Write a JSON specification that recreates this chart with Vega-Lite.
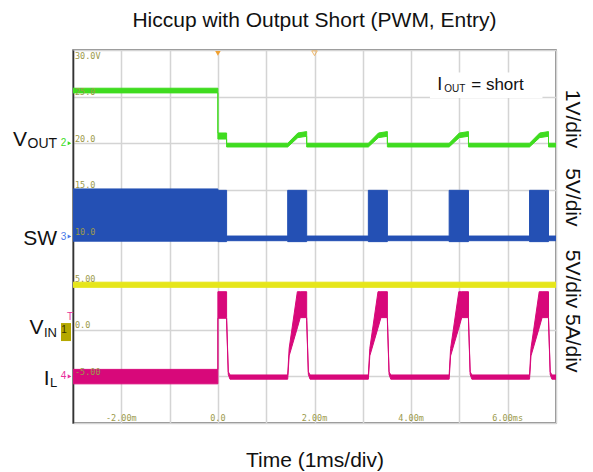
{
  "$schema": "https://vega.github.io/schema/vega-lite/v6.json",
  "width": 483,
  "height": 373,
  "autosize": {"type": "none"},
  "padding": {"left": 73, "top": 50, "right": 37, "bottom": 49},
  "background": "white",
  "title": {"text": "Hiccup with Output Short (PWM, Entry)", "fontSize": 21, "font": "Liberation Sans", "fontWeight": "normal", "color": "#111111", "anchor": "middle", "frame": "group", "offset": 18},
  "config": {"view": {"stroke": "#666666", "strokeWidth": 1.5}, "font": "Liberation Sans"},
  "datasets": {
    "traces": [
      {"s": "VIN", "t": -3, "lo": 4.55, "hi": 5.1},
      {"s": "VIN", "t": 7, "lo": 4.55, "hi": 5.1},

      {"s": "VOUT", "t": -3, "lo": 25.4, "hi": 25.9},
      {"s": "VOUT", "t": 0, "lo": 25.4, "hi": 25.9},
      {"s": "VOUT", "t": 0, "lo": 20.45, "hi": 21.1},
      {"s": "VOUT", "t": 0.18, "lo": 20.45, "hi": 21.1},
      {"s": "VOUT", "t": 0.18, "lo": 19.6, "hi": 20.0},
      {"s": "VOUT", "t": 1.445, "lo": 19.6, "hi": 20.0},
      {"s": "VOUT", "t": 1.655, "lo": 20.6, "hi": 21.1},
      {"s": "VOUT", "t": 1.838, "lo": 20.75, "hi": 21.25},
      {"s": "VOUT", "t": 1.838, "lo": 19.6, "hi": 20.0},
      {"s": "VOUT", "t": 3.115, "lo": 19.6, "hi": 20.0},
      {"s": "VOUT", "t": 3.325, "lo": 20.6, "hi": 21.1},
      {"s": "VOUT", "t": 3.509, "lo": 20.75, "hi": 21.25},
      {"s": "VOUT", "t": 3.509, "lo": 19.6, "hi": 20.0},
      {"s": "VOUT", "t": 4.788, "lo": 19.6, "hi": 20.0},
      {"s": "VOUT", "t": 4.998, "lo": 20.6, "hi": 21.1},
      {"s": "VOUT", "t": 5.188, "lo": 20.75, "hi": 21.25},
      {"s": "VOUT", "t": 5.188, "lo": 19.6, "hi": 20.0},
      {"s": "VOUT", "t": 6.452, "lo": 19.6, "hi": 20.0},
      {"s": "VOUT", "t": 6.662, "lo": 20.6, "hi": 21.1},
      {"s": "VOUT", "t": 6.845, "lo": 20.75, "hi": 21.25},
      {"s": "VOUT", "t": 6.845, "lo": 19.6, "hi": 20.0},
      {"s": "VOUT", "t": 7, "lo": 19.6, "hi": 20.0},

      {"s": "SW", "t": -3, "lo": 9.5, "hi": 15.1},
      {"s": "SW", "t": 0, "lo": 9.5, "hi": 15.1},
      {"s": "SW", "t": 0, "lo": 9.45, "hi": 14.95},
      {"s": "SW", "t": 0.18, "lo": 9.45, "hi": 14.95},
      {"s": "SW", "t": 0.18, "lo": 9.55, "hi": 10.05},
      {"s": "SW", "t": 1.445, "lo": 9.55, "hi": 10.05},
      {"s": "SW", "t": 1.445, "lo": 9.45, "hi": 14.95},
      {"s": "SW", "t": 1.838, "lo": 9.45, "hi": 14.95},
      {"s": "SW", "t": 1.838, "lo": 9.55, "hi": 10.05},
      {"s": "SW", "t": 3.115, "lo": 9.55, "hi": 10.05},
      {"s": "SW", "t": 3.115, "lo": 9.45, "hi": 14.95},
      {"s": "SW", "t": 3.509, "lo": 9.45, "hi": 14.95},
      {"s": "SW", "t": 3.509, "lo": 9.55, "hi": 10.05},
      {"s": "SW", "t": 4.788, "lo": 9.55, "hi": 10.05},
      {"s": "SW", "t": 4.788, "lo": 9.45, "hi": 14.95},
      {"s": "SW", "t": 5.188, "lo": 9.45, "hi": 14.95},
      {"s": "SW", "t": 5.188, "lo": 9.55, "hi": 10.05},
      {"s": "SW", "t": 6.452, "lo": 9.55, "hi": 10.05},
      {"s": "SW", "t": 6.452, "lo": 9.45, "hi": 14.95},
      {"s": "SW", "t": 6.845, "lo": 9.45, "hi": 14.95},
      {"s": "SW", "t": 6.845, "lo": 9.55, "hi": 10.05},
      {"s": "SW", "t": 7, "lo": 9.55, "hi": 10.05},

      {"s": "IL", "t": -3, "lo": -5.8, "hi": -4.25},
      {"s": "IL", "t": 0, "lo": -5.8, "hi": -4.25},
      {"s": "IL", "t": 0, "lo": 1.23, "hi": 4.08},
      {"s": "IL", "t": 0.18, "lo": 1.23, "hi": 4.08},
      {"s": "IL", "t": 0.18, "lo": 1.0, "hi": 1.3},
      {"s": "IL", "t": 0.215, "lo": -4.8, "hi": -4.5},
      {"s": "IL", "t": 0.25, "lo": -5.3, "hi": -4.85},
      {"s": "IL", "t": 1.445, "lo": -5.3, "hi": -4.85},
      {"s": "IL", "t": 1.475, "lo": -2.8, "hi": -2.0},
      {"s": "IL", "t": 1.645, "lo": 0.2, "hi": 4.08},
      {"s": "IL", "t": 1.705, "lo": 1.3, "hi": 4.08},
      {"s": "IL", "t": 1.838, "lo": 1.3, "hi": 4.08},
      {"s": "IL", "t": 1.838, "lo": 1.0, "hi": 1.3},
      {"s": "IL", "t": 1.873, "lo": -4.8, "hi": -4.5},
      {"s": "IL", "t": 1.908, "lo": -5.3, "hi": -4.85},
      {"s": "IL", "t": 3.115, "lo": -5.3, "hi": -4.85},
      {"s": "IL", "t": 3.145, "lo": -2.8, "hi": -2.0},
      {"s": "IL", "t": 3.315, "lo": 0.2, "hi": 4.08},
      {"s": "IL", "t": 3.375, "lo": 1.3, "hi": 4.08},
      {"s": "IL", "t": 3.509, "lo": 1.3, "hi": 4.08},
      {"s": "IL", "t": 3.509, "lo": 1.0, "hi": 1.3},
      {"s": "IL", "t": 3.544, "lo": -4.8, "hi": -4.5},
      {"s": "IL", "t": 3.579, "lo": -5.3, "hi": -4.85},
      {"s": "IL", "t": 4.788, "lo": -5.3, "hi": -4.85},
      {"s": "IL", "t": 4.818, "lo": -2.8, "hi": -2.0},
      {"s": "IL", "t": 4.988, "lo": 0.2, "hi": 4.08},
      {"s": "IL", "t": 5.048, "lo": 1.3, "hi": 4.08},
      {"s": "IL", "t": 5.188, "lo": 1.3, "hi": 4.08},
      {"s": "IL", "t": 5.188, "lo": 1.0, "hi": 1.3},
      {"s": "IL", "t": 5.223, "lo": -4.8, "hi": -4.5},
      {"s": "IL", "t": 5.258, "lo": -5.3, "hi": -4.85},
      {"s": "IL", "t": 6.452, "lo": -5.3, "hi": -4.85},
      {"s": "IL", "t": 6.482, "lo": -2.8, "hi": -2.0},
      {"s": "IL", "t": 6.652, "lo": 0.2, "hi": 4.08},
      {"s": "IL", "t": 6.712, "lo": 1.3, "hi": 4.08},
      {"s": "IL", "t": 6.845, "lo": 1.3, "hi": 4.08},
      {"s": "IL", "t": 6.845, "lo": 1.0, "hi": 1.3},
      {"s": "IL", "t": 6.88, "lo": -4.8, "hi": -4.5},
      {"s": "IL", "t": 6.915, "lo": -5.3, "hi": -4.85},
      {"s": "IL", "t": 7, "lo": -5.3, "hi": -4.85}
    ],
    "levels": [
      {"lab": "25.0", "v": 25},
      {"lab": "20.0", "v": 20},
      {"lab": "15.0", "v": 15},
      {"lab": "10.0", "v": 10},
      {"lab": "5.00", "v": 5},
      {"lab": "0.0", "v": 0},
      {"lab": "-5.00", "v": -5}
    ],
    "times": [
      {"lab": "-2.00m", "t": -2},
      {"lab": "0.0", "t": 0},
      {"lab": "2.00m", "t": 2},
      {"lab": "4.00m", "t": 4},
      {"lab": "6.00ms", "t": 6}
    ],
    "markers": [
      {"ch": "2", "v": 20, "s": "VOUT"},
      {"ch": "3", "v": 10, "s": "SW"},
      {"ch": "4", "v": -5, "s": "IL"}
    ],
    "scales": [
      {"lab": "1V/div", "v": 22.6},
      {"lab": "5V/div", "v": 14.2},
      {"lab": "5V/div 5A/div", "v": 2.0}
    ]
  },
  "layer": [
    {
      "data": {"name": "traces"},
      "mark": {"type": "area", "orient": "vertical", "strokeWidth": 1, "interpolate": "linear", "clip": true},
      "encoding": {
        "x": {"field": "t", "type": "quantitative",
              "scale": {"domain": [-3, 7], "nice": false, "zero": false},
              "axis": {"values": [-3, -2, -1, 0, 1, 2, 3, 4, 5, 6, 7], "labels": false, "ticks": false, "domain": false,
                       "grid": true, "gridColor": "#d4d4d4", "gridWidth": 1.5,
                       "title": "Time (1ms/div)", "titleFontSize": 21, "titleFontWeight": "normal", "titleColor": "#111111",
                       "titlePadding": 26, "titleFont": "Liberation Sans"}},
        "y": {"field": "lo", "type": "quantitative",
              "scale": {"domain": [-10, 30], "nice": false, "zero": false},
              "axis": {"values": [-10, -5, 0, 5, 10, 15, 20, 25, 30], "labels": false, "ticks": false,
                       "domain": true, "domainColor": "#333333", "domainWidth": 1.5,
                       "grid": true, "gridColor": "#d4d4d4", "gridWidth": 1.5, "title": ""}},
        "y2": {"field": "hi"},
        "fill": {"field": "s", "type": "nominal",
                 "scale": {"domain": ["VIN", "VOUT", "SW", "IL"], "range": ["#e6e61a", "#3fdc1f", "#2450b4", "#d8087a"]},
                 "legend": null},
        "stroke": {"field": "s", "type": "nominal",
                 "scale": {"domain": ["VIN", "VOUT", "SW", "IL"], "range": ["#e6e61a", "#3fdc1f", "#2450b4", "#d8087a"]},
                 "legend": null}
      }
    },
    {
      "data": {"values": [{}]},
      "mark": {"type": "rect", "color": "white"},
      "encoding": {
        "x": {"datum": 4.39}, "x2": {"datum": 6.72},
        "y": {"datum": 24.85}, "y2": {"datum": 27.6}
      }
    },
    {
      "data": {"name": "levels"},
      "mark": {"type": "text", "align": "left", "baseline": "alphabetic", "dx": 2, "dy": -1.5, "font": "DejaVu Sans Mono", "fontSize": 8.5, "color": "#9c9a4a"},
      "encoding": {
        "x": {"datum": -3},
        "y": {"field": "v", "type": "quantitative"},
        "text": {"field": "lab"}
      }
    },
    {
      "data": {"values": [{}]},
      "mark": {"type": "text", "align": "left", "baseline": "top", "dx": 2, "dy": 2, "font": "DejaVu Sans Mono", "fontSize": 8.5, "color": "#9c9a4a", "text": "30.0V"},
      "encoding": {"x": {"datum": -3}, "y": {"datum": 30}}
    },
    {
      "data": {"name": "times"},
      "mark": {"type": "text", "align": "center", "baseline": "alphabetic", "dy": -2.5, "font": "DejaVu Sans Mono", "fontSize": 8.5, "color": "#9c9a4a"},
      "encoding": {
        "x": {"field": "t", "type": "quantitative"},
        "y": {"datum": -10},
        "text": {"field": "lab"}
      }
    },
    {
      "data": {"values": [{}]},
      "mark": {"type": "point", "shape": "triangle-down", "filled": true, "size": 30, "color": "#f0a030", "opacity": 1},
      "encoding": {"x": {"datum": 0}, "y": {"datum": 29.65}}
    },
    {
      "data": {"values": [{}]},
      "mark": {"type": "point", "shape": "triangle-down", "filled": false, "size": 30, "color": "#f0a030", "strokeWidth": 1},
      "encoding": {"x": {"datum": 2}, "y": {"datum": 29.65}}
    },
    {
      "data": {"name": "markers"},
      "mark": {"type": "text", "align": "center", "baseline": "middle", "dx": -9.5, "fontSize": 10},
      "encoding": {
        "x": {"datum": -3},
        "y": {"field": "v", "type": "quantitative"},
        "text": {"field": "ch"},
        "color": {"field": "s", "type": "nominal",
                  "scale": {"domain": ["VIN", "VOUT", "SW", "IL"], "range": ["#e6e61a", "#3fdc1f", "#4a78e8", "#e8309a"]},
                  "legend": null}
      }
    },
    {
      "data": {"name": "markers"},
      "mark": {"type": "point", "shape": "triangle-right", "filled": true, "size": 18, "xOffset": -3.5, "opacity": 1},
      "encoding": {
        "x": {"datum": -3},
        "y": {"field": "v", "type": "quantitative"},
        "color": {"field": "s", "type": "nominal", "legend": null}
      }
    },
    {
      "data": {"values": [{}]},
      "mark": {"type": "rect", "color": "#b5a800", "xOffset": -12, "x2Offset": -2, "yOffset": -6.7, "y2Offset": 11.3},
      "encoding": {"x": {"datum": -3}, "x2": {"datum": -3}, "y": {"datum": 0}, "y2": {"datum": 0}}
    },
    {
      "data": {"values": [{}]},
      "mark": {"type": "text", "align": "center", "baseline": "middle", "dx": -9, "dy": 0.5, "fontSize": 10, "color": "#3a3500", "text": "1"},
      "encoding": {"x": {"datum": -3}, "y": {"datum": 0}}
    },
    {
      "data": {"values": [{}]},
      "mark": {"type": "text", "align": "center", "baseline": "middle", "dx": -3, "dy": -13, "fontSize": 10, "color": "#e8309a", "text": "T"},
      "encoding": {"x": {"datum": -3}, "y": {"datum": 0}}
    },
    {
      "data": {"values": [{}]},
      "mark": {"type": "text", "align": "right", "baseline": "alphabetic", "dx": -46, "dy": 2.7, "fontSize": 21, "color": "#111111", "text": "V"},
      "encoding": {"x": {"datum": -3}, "y": {"datum": 20}}
    },
    {
      "data": {"values": [{}]},
      "mark": {"type": "text", "align": "left", "baseline": "alphabetic", "dx": -45.5, "dy": 5, "fontSize": 14, "color": "#111111", "text": "OUT"},
      "encoding": {"x": {"datum": -3}, "y": {"datum": 20}}
    },
    {
      "data": {"values": [{}]},
      "mark": {"type": "text", "align": "right", "baseline": "alphabetic", "dx": -16, "dy": 8.3, "fontSize": 21, "color": "#111111", "text": "SW"},
      "encoding": {"x": {"datum": -3}, "y": {"datum": 10}}
    },
    {
      "data": {"values": [{}]},
      "mark": {"type": "text", "align": "right", "baseline": "alphabetic", "dx": -29.5, "dy": 4.6, "fontSize": 21, "color": "#111111", "text": "V"},
      "encoding": {"x": {"datum": -3}, "y": {"datum": 0}}
    },
    {
      "data": {"values": [{}]},
      "mark": {"type": "text", "align": "left", "baseline": "alphabetic", "dx": -29, "dy": 7, "fontSize": 13, "color": "#111111", "text": "IN"},
      "encoding": {"x": {"datum": -3}, "y": {"datum": 0}}
    },
    {
      "data": {"values": [{}]},
      "mark": {"type": "text", "align": "right", "baseline": "alphabetic", "dx": -23.5, "dy": 8.7, "fontSize": 21, "color": "#111111", "text": "I"},
      "encoding": {"x": {"datum": -3}, "y": {"datum": -5}}
    },
    {
      "data": {"values": [{}]},
      "mark": {"type": "text", "align": "left", "baseline": "alphabetic", "dx": -23, "dy": 10.7, "fontSize": 13, "color": "#111111", "text": "L"},
      "encoding": {"x": {"datum": -3}, "y": {"datum": -5}}
    },
    {
      "data": {"name": "scales"},
      "mark": {"type": "text", "angle": 90, "align": "center", "baseline": "middle", "xOffset": 15.5, "fontSize": 21, "color": "#111111"},
      "encoding": {
        "x": {"datum": 7},
        "y": {"field": "v", "type": "quantitative"},
        "text": {"field": "lab"}
      }
    },
    {
      "data": {"values": [{}]},
      "mark": {"type": "text", "align": "left", "baseline": "alphabetic", "dx": 2, "dy": -6.6, "fontSize": 18, "color": "#111111", "text": "I"},
      "encoding": {"x": {"datum": 4.5}, "y": {"datum": 25}}
    },
    {
      "data": {"values": [{}]},
      "mark": {"type": "text", "align": "left", "baseline": "alphabetic", "dx": 9, "dy": -5, "fontSize": 10, "color": "#111111", "text": "OUT"},
      "encoding": {"x": {"datum": 4.5}, "y": {"datum": 25}}
    },
    {
      "data": {"values": [{}]},
      "mark": {"type": "text", "align": "left", "baseline": "alphabetic", "dx": 36, "dy": -6.6, "fontSize": 17, "color": "#111111", "text": "= short"},
      "encoding": {"x": {"datum": 4.5}, "y": {"datum": 25}}
    }
  ]
}
